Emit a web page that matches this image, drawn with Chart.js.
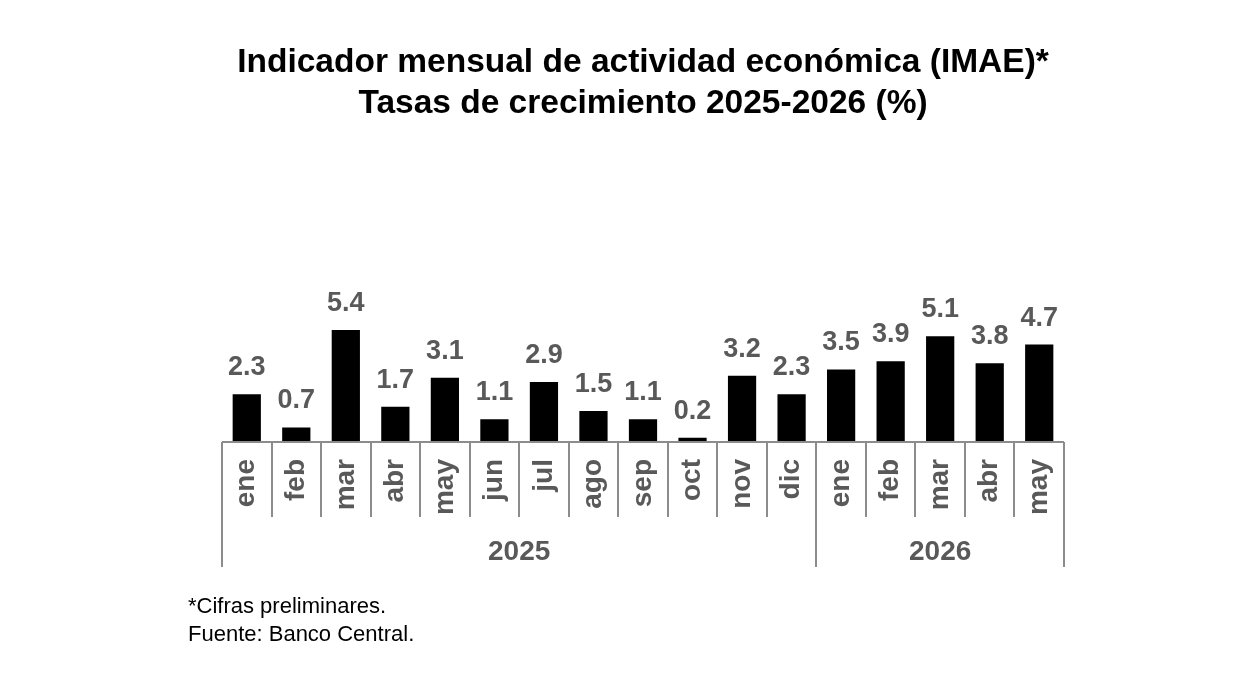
<!DOCTYPE html>
<html lang="es">
<head>
<meta charset="utf-8">
<title>IMAE</title>
<script src="https://cdn.jsdelivr.net/npm/chart.js@4/dist/chart.umd.min.js"></script>
<style>
  html, body { margin: 0; padding: 0; background: #fff; }
  #wrap { position: relative; width: 1249px; height: 700px; }
  #notes {
    position: absolute; left: 188px; top: 592px;
    font: 22px "Liberation Sans", Arial, sans-serif; color: #000; line-height: 28px;
  }
</style>
</head>
<body>
<div id="wrap">
  <canvas id="chart" width="1249" height="700"></canvas>
  <div id="notes">*Cifras preliminares.<br>Fuente: Banco Central.</div>
</div>
<script>
// Datos
const months = ['ene', 'feb', 'mar', 'abr', 'may', 'jun', 'jul', 'ago', 'sep', 'oct', 'nov', 'dic',
                'ene', 'feb', 'mar', 'abr', 'may']
const growth = [2.3, 0.7, 5.4, 1.7, 3.1, 1.1, 2.9, 1.5, 1.1, 0.2, 3.2, 2.3,
                3.5, 3.9, 5.1, 3.8, 4.7]
const years = ['2025', '2026']
const monthsPerYear = [12, 5]

const grey = '#595959'
const lineGrey = '#8c8c8c'
const fontFamily = '"Liberation Sans", Arial, sans-serif'

// Data labels above bars
const barLabels = {
  id: 'barLabels',
  afterDatasetsDraw(chart) {
    const ctx = chart.ctx
    const meta = chart.getDatasetMeta(0)
    ctx.save()
    ctx.fillStyle = grey
    ctx.font = 'bold 27px ' + fontFamily
    ctx.textAlign = 'center'
    ctx.textBaseline = 'alphabetic'
    meta.data.forEach((bar, i) => {
      ctx.fillText(growth[i].toFixed(1), bar.x, bar.y - 19)
    })
    ctx.restore()
  }
}

// Axis line, category separators and year groups
const groupAxis = {
  id: 'groupAxis',
  afterDraw(chart) {
    const ctx = chart.ctx
    const x = chart.scales.x
    const step = (x.right - x.left) / months.length
    const base = chart.chartArea.bottom
    ctx.save()
    ctx.strokeStyle = lineGrey
    ctx.lineWidth = 2
    ctx.beginPath()
    ctx.moveTo(x.left, base)
    ctx.lineTo(x.right, base)
    const yearEdges = [0]
    monthsPerYear.forEach(n => yearEdges.push(yearEdges[yearEdges.length - 1] + n))
    for (let i = 0; i <= months.length; i++) {
      const px = Math.round(x.left + i * step)
      ctx.moveTo(px, base)
      ctx.lineTo(px, yearEdges.includes(i) ? base + 125 : base + 75)
    }
    ctx.stroke()

    ctx.fillStyle = grey
    ctx.font = 'bold 28px ' + fontFamily
    ctx.textAlign = 'center'
    ctx.textBaseline = 'alphabetic'
    years.forEach((yr, k) => {
      const mid = x.left + (yearEdges[k] + yearEdges[k + 1]) / 2 * step
      ctx.fillText(yr, mid, base + 118)
    })
    ctx.restore()
  }
}

new Chart(document.getElementById('chart'), {
  type: 'bar',
  data: {
    labels: months,
    datasets: [{
      data: growth,
      backgroundColor: '#000',
      barPercentage: 0.57,
      categoryPercentage: 1
    }]
  },
  options: {
    responsive: false,
    animation: false,
    layout: { padding: { left: 222, right: 185, top: 0, bottom: 0 } },
    plugins: {
      legend: { display: false },
      tooltip: { enabled: false },
      title: {
        display: true,
        fullSize: false,
        text: ['Indicador mensual de actividad económica (IMAE)*', 'Tasas de crecimiento 2025-2026 (%)'],
        color: '#000',
        font: { family: fontFamily, size: 33.5, weight: 'bold', lineHeight: 1.22 },
        padding: { top: 42, bottom: 111 }
      }
    },
    scales: {
      y: { display: false, min: 0, max: 10 },
      x: {
        grid: { display: false },
        border: { display: false },
        ticks: {
          color: grey,
          font: { family: fontFamily, size: 28, weight: 'bold' },
          minRotation: 90,
          maxRotation: 90,
          padding: 9
        },
        afterFit(scale) { scale.height = 258 }
      }
    }
  },
  plugins: [barLabels, groupAxis]
})
</script>
</body>
</html>
